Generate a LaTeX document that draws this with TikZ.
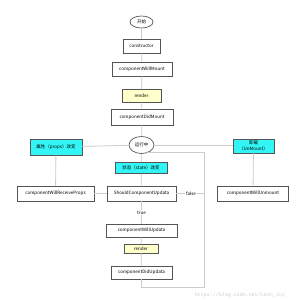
\documentclass[tikz,border=0pt]{standalone}
\usepackage{fontspec}
\setmainfont{Noto Sans CJK SC}
\newfontfamily\markfont{Liberation Mono}
\usepackage{xcolor}
\usetikzlibrary{shapes.geometric}
\definecolor{edgegray}{HTML}{555555}
\definecolor{linkgray}{HTML}{CCCCCC}
\definecolor{stagecyan}{HTML}{33F5F5}
\definecolor{renderyellow}{HTML}{FFFFCC}
\tikzset{
  box/.style={draw=edgegray, line width=0.8pt, fill=white, inner sep=0pt, align=center},
  cyanbox/.style={box, fill=stagecyan},
  yellowbox/.style={box, fill=renderyellow},
  oval/.style={ellipse, draw=edgegray, line width=0.7pt, fill=white, inner sep=0pt},
  link/.style={draw=linkgray, line width=0.8pt},
  tag/.style={fill=white, inner sep=1pt}
}

\begin{document}
\begin{tikzpicture}[x=1pt,y=-1pt,font=\fontsize{4.5}{5.5}\selectfont]
  \useasboundingbox[fill=white] (0,0) rectangle (300,300);
  % mounting
  \node[oval, minimum width=23pt, minimum height=12pt] (start) at (141.5,22) {开始};
  \node[box, minimum width=37pt, minimum height=14pt] (ctor) at (141.5,46) {constructor};
  \node[box, minimum width=60pt, minimum height=14pt] (cwm) at (142,69) {componentWillMount};
  \node[yellowbox, minimum width=39pt, minimum height=13pt] (renderA) at (141.5,95.5) {render};
  \node[box, minimum width=62pt, minimum height=16pt] (cdm) at (142,117) {componentDidMount};
  \node[oval, minimum width=25pt, minimum height=17pt] (run) at (141.5,145) {运行中};
  % running
  \node[cyanbox, minimum width=52pt, minimum height=16pt] (props) at (56,147) {属性（props）改变};
  \node[cyanbox, minimum width=41pt, minimum height=14pt] (unmount) at (253.5,146) {卸载\\（UnMount）};
  \node[cyanbox, minimum width=52pt, minimum height=11pt] (state) at (141,168) {状态（state）改变};
  \node[box, minimum width=77pt, minimum height=15pt] (cwrp) at (55.5,193.5) {componentWillReceiveProps};
  \node[box, minimum width=69pt, minimum height=15pt] (scu) at (141.5,193.5) {ShouldComponentUpdata};
  \node[box, minimum width=71pt, minimum height=15pt] (cwun) at (253,193.5) {componentWillUnmount};
  \node[box, minimum width=71pt, minimum height=13pt] (cwud) at (141.5,230.5) {componentWillUpdata};
  \node[yellowbox, minimum width=34pt, minimum height=9pt] (renderB) at (141,248.5) {render};
  \node[box, minimum width=61pt, minimum height=13pt] (cdu) at (141.5,272.5) {componentDidUpdata};
  \coordinate (loopS) at (147,152.8);
  \coordinate (loopA) at (204,152.8);
  \coordinate (loopB) at (204,287);
  \coordinate (loopC) at (141.5,287);
  % connectors
  \draw[link] (start) -- (ctor);
  \draw[link] (ctor) -- (cwm);
  \draw[link] (cwm) -- (renderA);
  \draw[link] (renderA) -- (cdm);
  \draw[link] (cdm) -- (run);
  \draw[link] (props) -- (run);
  \draw[link] (run) -- (unmount.west |- run);
  \draw[link] (run) -- (state);
  \draw[link] (state) -- (scu);
  \draw[link] (props) -- (cwrp);
  \draw[link] (cwrp) -- (scu);
  \draw[link] (unmount) -- (cwun);
  \draw[link] (scu) -- node[tag, pos=0.5] (yes) {true} (cwud);
  \draw[link] (cwud) -- (renderB);
  \draw[link] (renderB) -- (cdu);
  \draw[link] (loopS) -- (loopA) -- (loopB) -- (loopC) -- (cdu);
  \draw[link] (scu) -- node[tag, pos=0.53] (no) {false} (scu -| loopA);
  \node[text=linkgray, font=\markfont\fontsize{5}{6}\selectfont] (mark) at (240,295) {https://blog.csdn.net/Leon\_Jcy};
\end{tikzpicture}
\end{document}
